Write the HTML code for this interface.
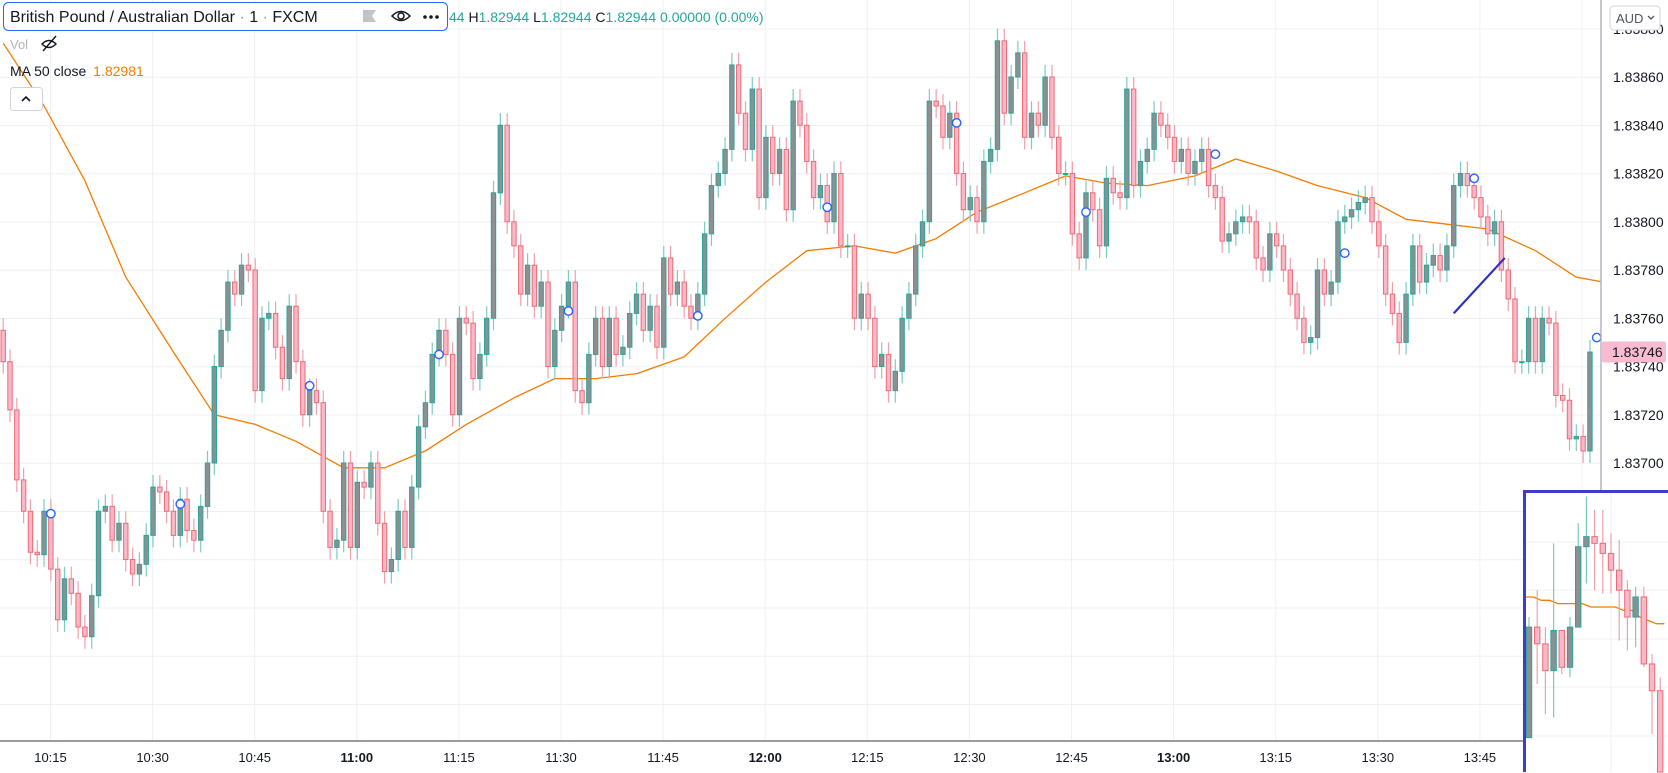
<!DOCTYPE html>
<html><head><meta charset="utf-8"><style>
html,body{margin:0;padding:0;background:#fff;width:1668px;height:773px;overflow:hidden;font-family:"Liberation Sans",sans-serif}
svg text{font-family:"Liberation Sans",sans-serif}
svg{display:block}
</style></head><body>
<svg id="chart" width="1668" height="773" viewBox="0 0 1668 773" xmlns="http://www.w3.org/2000/svg">
<defs>
<clipPath id="plotClip"><rect x="0" y="0" width="1601" height="741"/></clipPath>
<clipPath id="insetClip"><rect x="1525" y="492" width="143" height="281"/></clipPath>
</defs>
<g id="grid"></g>
<g id="ma" clip-path="url(#plotClip)"></g>
<g id="candles" clip-path="url(#plotClip)"></g>
<g id="markers" clip-path="url(#plotClip)"></g>
<g id="drawing" clip-path="url(#plotClip)"></g>
<line x1="1601" y1="0" x2="1601" y2="772" stroke="#b2b5be" stroke-width="1.5"/>
<line x1="0" y1="741" x2="1601" y2="741" stroke="#787b86" stroke-width="1.5"/>
<g id="yaxis"></g>
<g id="xaxis"></g>
<g>
<rect id="curBox" x="1602" y="341" width="64" height="21" rx="2" fill="#f8bbd0"/>
<text id="curText" x="1612" y="356" font-size="14" fill="#131722">1.83746</text>
</g>
<g>
<rect x="1610" y="6" width="50" height="24" rx="4" fill="#fff" stroke="#d1d4dc"/>
<text x="1616" y="23" font-size="13" fill="#50535e">AUD</text>
<path d="M1648 16 l3 3 l3 -3" fill="none" stroke="#50535e" stroke-width="1.3"/>
</g>
<g id="inset">
<rect x="1525" y="492" width="143" height="281" fill="#fff"/>
<g id="insetGrid"></g>
<g id="insetBody" clip-path="url(#insetClip)"></g>
<path d="M1524.5 772 V491.5 H1668" fill="none" stroke="#3d3dc8" stroke-width="3"/>
</g>
<g>
<rect x="3.5" y="2.5" width="444" height="28" rx="5" fill="#fff" stroke="#2962ff" stroke-width="1"/>
<text x="10" y="22" font-size="16" fill="#131722">British Pound / Australian Dollar<tspan fill="#9598a1"> · </tspan>1<tspan fill="#9598a1"> · </tspan>FXCM</text>
<path d="M363 10 h13 l-4 6 l4 6 h-13 z" fill="#c1c4cd"/>
<g><path d="M392 16 q9 -9 18 0 q-9 9 -18 0z" fill="none" stroke="#131722" stroke-width="1.5"/><circle cx="401" cy="16" r="3" fill="none" stroke="#131722" stroke-width="1.5"/></g>
<g fill="#131722"><circle cx="425" cy="17" r="1.8"/><circle cx="431" cy="17" r="1.8"/><circle cx="437" cy="17" r="1.8"/></g>
</g>
<text x="449" y="22" font-size="14" fill="#26a69a">44 <tspan fill="#131722">H</tspan>1.82944 <tspan fill="#131722">L</tspan>1.82944 <tspan fill="#131722">C</tspan>1.82944 0.00000 (0.00%)</text>
<text x="10" y="49" font-size="13" fill="#b2b5be">Vol</text>
<g fill="none" stroke="#131722" stroke-width="1.4"><path d="M42 44 q7 -7 14 0 q-7 7 -14 0z"/><line x1="43" y1="51" x2="56" y2="36"/></g>
<text x="10" y="76" font-size="14" fill="#131722">MA 50 close <tspan fill="#f57c00" dx="3">1.82981</tspan></text>
<g><rect x="10.5" y="87.5" width="32" height="23" rx="3" fill="#fff" stroke="#d1d4dc"/><path d="M22 101 l4 -4 l4 4" fill="none" stroke="#131722" stroke-width="1.6"/></g>
</svg>
<script>
const closes=[
1.83742,1.83722,1.83693,1.83680,1.83663,1.83662,1.83680,1.83656,1.83635,1.83652,
1.83646,1.83632,1.83628,1.83645,1.83680,1.83682,1.83668,1.83675,1.83660,1.83654,
1.83658,1.83670,1.83690,1.83688,1.83680,1.83670,1.83685,1.83672,1.83668,1.83682,
1.83700,1.83740,1.83755,1.83775,1.83770,1.83782,1.83780,1.83730,1.83760,1.83762,
1.83748,1.83735,1.83765,1.83742,1.83720,1.83730,1.83725,1.83680,1.83665,1.83668,
1.83700,1.83665,1.83692,1.83690,1.83700,1.83675,1.83655,1.83660,1.83680,1.83665,
1.83690,1.83715,1.83725,1.83745,1.83755,1.83745,1.83720,1.83760,1.83758,1.83735,
1.83745,1.83760,1.83812,1.83840,1.83800,1.83790,1.83770,1.83782,1.83765,1.83775,
1.83740,1.83755,1.83765,1.83775,1.83730,1.83725,1.83745,1.83760,1.83740,1.83760,
1.83745,1.83748,1.83762,1.83770,1.83755,1.83765,1.83748,1.83785,1.83770,1.83775,
1.83765,1.83760,1.83770,1.83795,1.83815,1.83820,1.83830,1.83865,1.83845,1.83830,
1.83855,1.83810,1.83835,1.83820,1.83830,1.83805,1.83850,1.83840,1.83825,1.83810,
1.83815,1.83800,1.83820,1.83790,1.83790,1.83760,1.83770,1.83760,1.83740,1.83745,
1.83730,1.83738,1.83760,1.83770,1.83790,1.83800,1.83850,1.83848,1.83835,1.83845,
1.83820,1.83805,1.83810,1.83800,1.83825,1.83830,1.83875,1.83845,1.83860,1.83870,
1.83835,1.83845,1.83840,1.83860,1.83835,1.83820,1.83820,1.83795,1.83785,1.83812,
1.83805,1.83790,1.83818,1.83812,1.83810,1.83855,1.83815,1.83825,1.83830,1.83845,
1.83840,1.83835,1.83825,1.83830,1.83820,1.83825,1.83830,1.83815,1.83810,1.83792,
1.83795,1.83800,1.83802,1.83800,1.83785,1.83780,1.83795,1.83790,1.83780,1.83770,
1.83760,1.83750,1.83752,1.83780,1.83770,1.83775,1.83800,1.83802,1.83805,1.83808,
1.83810,1.83800,1.83790,1.83770,1.83762,1.83750,1.83770,1.83790,1.83775,1.83782,
1.83786,1.83780,1.83790,1.83815,1.83820,1.83815,1.83810,1.83802,1.83795,1.83800,
1.83780,1.83768,1.83742,1.83742,1.83760,1.83742,1.83760,1.83758,1.83728,1.83726,
1.83710,1.83711,1.83705,1.83746];
const firstOpen=1.83755;
const wickPad=0.00005;
const maIdx=[0,6,12,18,25,31,37,43,50,56,62,68,75,81,87,93,100,106,112,118,125,131,137,143,150,156,162,168,175,181,187,193,200,206,212,218,225,231,235];
const maVals=[1.83874,1.83848,1.83817,1.83777,1.83746,1.83720,1.83716,1.83709,1.83698,1.83698,1.83705,1.83716,1.83727,1.83735,1.83735,1.83737,1.83744,1.83760,1.83775,1.83788,1.83790,1.83787,1.83793,1.83804,1.83812,1.83819,1.83816,1.83815,1.83819,1.83826,1.83821,1.83815,1.83810,1.83801,1.83799,1.83797,1.83788,1.83777,1.83775];
const markerIdx=[7,26,45,64,83,102,121,140,159,178,197,216,234];
const markerVals=[1.83679,1.83683,1.83732,1.83745,1.83763,1.83761,1.83806,1.83841,1.83804,1.83828,1.83787,1.83818,1.83752];
const trendIdx=[213,220.5];
const trendVals=[1.83762,1.83785];
const priceTicks=[1.83880,1.83860,1.83840,1.83820,1.83800,1.83780,1.83760,1.83740,1.83720,1.83700];
const timeLabels=["10:15","10:30","10:45","11:00","11:15","11:30","11:45","12:00","12:15","12:30","12:45","13:00","13:15","13:30","13:45","14:00"];
const insetOpen=[1.83759,1.83792,1.83787,1.83779,1.83791,1.83780,1.83792,1.83816,1.83819,1.83817,1.83814,1.83809,1.83803,1.83795,1.83801,1.83781,1.83773];
const insetClose=[1.83792,1.83787,1.83779,1.83791,1.83780,1.83792,1.83816,1.83819,1.83817,1.83814,1.83809,1.83803,1.83795,1.83801,1.83781,1.83773,1.83720];
const insetHigh=[1.83795,1.83803,1.83792,1.83817,1.83791,1.83795,1.83823,1.83831,1.83827,1.83827,1.83820,1.83818,1.83806,1.83804,1.83804,1.83784,1.83777];
const insetLow=[1.83759,1.83775,1.83766,1.83765,1.83778,1.83777,1.83805,1.83805,1.83803,1.83802,1.83802,1.83788,1.83785,1.83786,1.83780,1.83760,1.83700];
const insetMA=[1.83801,1.83801,1.83800,1.83800,1.83799,1.83799,1.83799,1.83799,1.83798,1.83798,1.83798,1.83798,1.83797,1.83797,1.83795,1.83794,1.83793,1.83793];

const NS="http://www.w3.org/2000/svg";
function xOf(i){return 3.2+6.81*i;}
function yOf(p){return Math.min(740,77+(1.8386-p)/0.0002*48.25);}
function ixOf(j){return 1529+8.2*j;}
function iyOf(p){return Math.min(772,540+(1.83818-p)/0.0002*67);}
function mk(tag,parent,attrs){const e=document.createElementNS(NS,tag);for(const k in attrs)e.setAttribute(k,attrs[k]);parent.appendChild(e);return e;}

const grid=document.getElementById('grid');
for(let y=29;y<741;y+=48.25){const l=mk('line',grid,{x1:0,x2:1601,y1:y,y2:y,stroke:'#edf0f5','stroke-width':1});

}
const xaxis=document.getElementById('xaxis');
timeLabels.forEach((t,k)=>{const x=50.5+102.1*k;
const l=mk('line',grid,{x1:x,x2:x,y1:0,y2:741,stroke:'#edf0f5','stroke-width':1});


if(x<1520){const tx=mk('text',xaxis,{x:x,y:762,'font-size':13,'text-anchor':'middle',fill:'#131722','font-weight':t.endsWith(':00')?'bold':'normal'});tx.textContent=t;

}
});
const yaxis=document.getElementById('yaxis');
priceTicks.forEach(p=>{const t=mk('text',yaxis,{x:1613,y:yOf(p)+5,'font-size':14,fill:'#131722'});t.textContent=p.toFixed(5);

});

let d='';maIdx.forEach((i,k)=>{d+=(k?'L':'M')+xOf(i).toFixed(1)+' '+yOf(maVals[k]).toFixed(1);});
const maPath=mk('path',document.getElementById('ma'),{d:d,fill:'none',stroke:'#f57c00','stroke-width':1.3,'stroke-linejoin':'round'});



function drawCandle(g,x,o,c,h,l,yf,w){
  const up=c>=o;const body=up?'#8d9093':'#f8b8c8';const edge=up?'#26a69a':'#ef6a75';const wick=up?'#7ccbc2':'#f2a0a8';
  const wl=mk('line',g,{x1:x,x2:x,y1:yf(h),y2:yf(l),stroke:wick,'stroke-width':1.2});
  
  
  const yt=yf(Math.max(o,c)),yb=yf(Math.min(o,c));
  const r=mk('rect',g,{x:x-w/2,y:yt,width:w,height:Math.max(1,yb-yt),fill:body,stroke:edge,'stroke-width':1});
  
  
}
const cg=document.getElementById('candles');
closes.forEach((c,i)=>{const o=i?closes[i-1]:firstOpen;
drawCandle(cg,xOf(i),o,c,Math.max(o,c)+wickPad,Math.min(o,c)-wickPad,yOf,4.4);});

const mg=document.getElementById('markers');
markerIdx.forEach((i,k)=>{const m=mk('circle',mg,{cx:xOf(i),cy:yOf(markerVals[k]),r:4.2,fill:'#fff',stroke:'#2962ff','stroke-width':1.4});

});

const tl=mk('line',document.getElementById('drawing'),{x1:xOf(trendIdx[0]),y1:yOf(trendVals[0]),x2:xOf(trendIdx[1]),y2:yOf(trendVals[1]),stroke:'#3030c0','stroke-width':2.2});



const ig=document.getElementById('insetGrid');
[540,588,637,685,734].forEach(y=>{const l=mk('line',ig,{x1:1525,x2:1668,y1:y+2,y2:y+2,stroke:'#edf0f5'});

});
const ivl=mk('line',ig,{x1:1611,x2:1611,y1:492,y2:772,stroke:'#edf0f5'});


const ib=document.getElementById('insetBody');
let d2='';insetMA.forEach((v,j)=>{d2+=(j?'L':'M')+(ixOf(j)-4).toFixed(1)+' '+iyOf(v).toFixed(1);});
const ima=mk('path',ib,{d:d2,fill:'none',stroke:'#f57c00','stroke-width':1.3});


insetOpen.forEach((o,j)=>drawCandle(ib,ixOf(j),o,insetClose[j],insetHigh[j],insetLow[j],iyOf,5.4));

const cp=closes[closes.length-1];
document.getElementById('curBox').setAttribute('y',yOf(cp)-10.5);
document.getElementById('curText').setAttribute('y',yOf(cp)+5);
document.getElementById('curText').textContent=cp.toFixed(5);
</script>
</body></html>
